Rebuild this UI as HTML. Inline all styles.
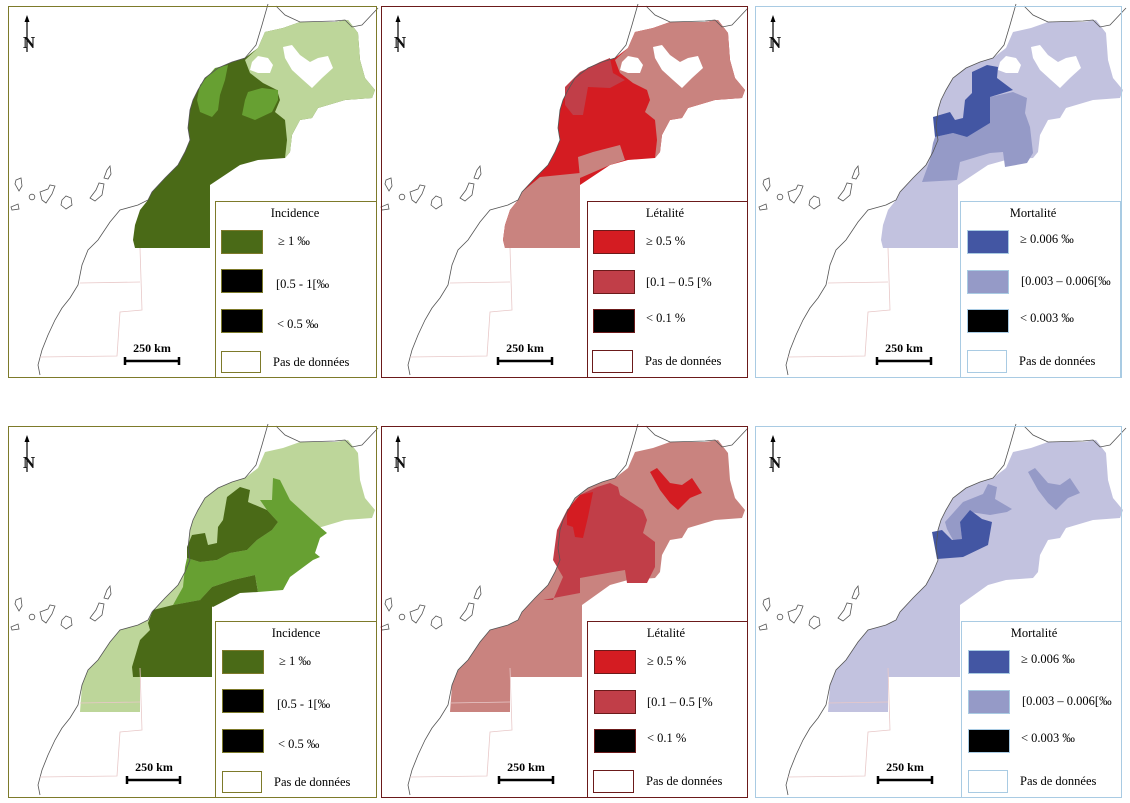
<!DOCTYPE html>
<html><head><meta charset="utf-8"><style>
html,body{margin:0;padding:0;background:#fff;}
svg{display:block;}
text{font-family:"Liberation Serif",serif;}
</style></head><body>
<svg width="1130" height="803" viewBox="0 0 1130 803" xmlns="http://www.w3.org/2000/svg">
<defs>
<path id="cTop" d="M245,58 L258,48 265,32 283,28 300,22 335,22 348,20 358,33 360,60 365,78 375,90 372,98 345,100 318,108 312,118 300,120 292,135 290,152 285,158 258,160 240,165 210,185 210,248 135,248 133,240 135,225 140,210 148,200 152,192 165,178 178,165 185,152 190,140 188,128 190,110 193,100 198,90 205,78 218,68 232,62 Z"/>
<path id="cBot" d="M245,58 L258,48 265,32 283,28 300,22 335,22 348,20 358,33 360,60 365,78 375,90 372,98 345,100 318,108 312,118 300,120 292,135 290,152 285,158 258,160 240,165 212,185 212,257 140,257 140,292 80,292 82,265 88,250 98,240 110,222 120,210 138,205 148,200 152,192 165,178 178,165 185,152 190,140 188,128 190,110 193,100 198,90 205,78 218,68 232,62 Z"/>
<path id="ne" d="M245,60 L258,48 265,32 283,28 300,22 335,22 348,20 358,33 360,60 365,78 375,90 372,98 345,100 318,108 312,118 300,120 292,135 290,152 285,158 287,140 285,120 275,112 280,100 277,90 263,83 250,73 Z"/>
<path id="h1" d="M252,62 L258,56 268,58 273,65 270,73 258,73 250,70 Z"/>
<path id="h2" d="M283,47 L292,45 300,55 310,62 318,58 328,56 333,68 322,78 312,88 303,80 292,70 285,58 Z"/>
<path id="blob" d="M280,52 L287,48 300,63 312,65 322,58 332,73 320,78 308,90 300,83 290,70 Z"/>
<g id="lines" fill="none">
<path d="M268,4 L262,25 256,45 245,58 232,62 218,68 205,78 198,90 193,100 190,110 188,128 190,140 185,152 178,165 165,178 152,192 148,200 138,205 120,210 110,222 98,240 88,250 82,265 78,285 70,298 62,308 55,320 48,335 42,350 38,365 40,375" stroke="#555" stroke-width="0.8"/>
<path d="M276,6 L285,15 300,22 335,21 345,20 352,27 362,25 378,8" stroke="#555" stroke-width="0.8"/>
<path d="M140,248 L142,310 120,312 117,356 40,357 M80,283 L140,282" stroke="#e8c8c8" stroke-width="0.8"/>
<g stroke="#555" stroke-width="0.8">
<path d="M16,180 L21,178 22,186 19,191 15,184 Z"/>
<circle cx="32" cy="197" r="2.8"/>
<path d="M40,192 L48,189 50,185 55,186 52,194 46,203 42,200 Z"/>
<path d="M62,200 L66,196 71,198 72,205 66,209 61,205 Z"/>
<path d="M90,198 L96,190 99,183 104,184 102,195 95,201 Z"/>
<path d="M104,178 L107,170 110,166 111,174 108,179 Z"/>
<path d="M11,207 L18,204 19,209 12,210 Z"/>
</g>
</g>
</defs>

<g>
<g transform="translate(0,0)">
<use href="#cTop" fill="#4a6a17"/>
<use href="#ne" fill="#bdd69a"/>
<use href="#h1" fill="#fff"/><use href="#h2" fill="#fff"/>
<path d="M200,85 L215,68 228,65 225,80 220,95 218,110 212,117 200,112 197,100 Z" fill="#67a032"/>
<path d="M248,92 L262,88 278,90 278,100 272,112 255,120 242,115 245,100 Z" fill="#67a032"/>
<use href="#lines"/>
</g>
<rect x="8.5" y="6.5" width="368" height="371" fill="none" stroke="#7d7a2a" stroke-width="1"/>
</g>

<g>
<g transform="translate(370,0)">
<use href="#cTop" fill="#d41c22"/>
<use href="#ne" fill="#c9837f"/>
<use href="#h1" fill="#fff"/><use href="#h2" fill="#fff"/>
<path d="M195,87 L210,72 230,62 240,58 243,73 255,80 240,88 218,87 213,115 203,115 195,105 Z" fill="#c13e48"/>
<path d="M152,192 L170,177 210,173 210,248 135,248 133,240 135,225 140,210 148,200 Z" fill="#c9837f"/>
<path d="M208,157 L223,152 250,145 255,160 240,165 210,178 Z" fill="#c9837f"/>
<use href="#lines"/>
</g>
<rect x="381.5" y="6.5" width="366" height="371" fill="none" stroke="#6b1a1a" stroke-width="1"/>
</g>

<g>
<g transform="translate(748,0)">
<use href="#cTop" fill="#c2c2df"/>
<use href="#h1" fill="#fff"/><use href="#h2" fill="#fff"/>
<path d="M242,97 L265,92 279,98 277,113 282,127 285,153 279,163 257,167 255,152 242,153 212,162 209,180 174,182 182,160 185,143 187,137 205,133 219,137 242,123 Z" fill="#959ac7"/>
<path d="M224,72 L239,65 250,67 249,78 265,90 242,97 242,123 219,137 205,133 187,137 185,117 202,112 207,120 215,118 217,100 224,93 Z" fill="#4356a3"/>
<use href="#lines"/>
</g>
<rect x="755.5" y="6.5" width="366" height="371" fill="none" stroke="#a9cbe3" stroke-width="1"/>
</g>

<g>
<g transform="translate(0,420)">
<use href="#cBot" fill="#bdd69a"/>
<path d="M273,58 L280,60 290,80 312,100 327,113 320,118 315,133 320,137 313,140 290,157 283,170 258,172 255,155 233,160 212,167 200,180 173,185 183,167 185,147 187,138 200,142 217,140 230,133 247,130 257,120 272,110 278,102 267,90 260,80 272,80 Z" fill="#67a032"/>
<path d="M240,67 L250,70 248,82 267,90 278,102 272,110 257,120 247,130 230,133 217,140 200,142 187,138 187,127 192,115 205,113 208,125 217,123 218,107 223,100 227,77 Z" fill="#4a6a17"/>
<path d="M212,167 L233,160 255,155 258,172 240,173 213,187 200,180 Z" fill="#4a6a17"/>
<path d="M148,203 L153,190 173,185 200,180 212,182 212,257 133,257 132,247 140,220 150,210 Z" fill="#4a6a17"/>
<use href="#lines"/>
</g>
<rect x="8.5" y="426.5" width="368" height="371" fill="none" stroke="#7d7a2a" stroke-width="1"/>
</g>

<g>
<g transform="translate(370,420)">
<use href="#cBot" fill="#c9837f"/>
<path d="M183,180 L193,157 183,140 187,110 197,90 210,75 227,67 240,63 248,67 250,75 273,90 277,100 273,113 285,122 285,147 277,163 257,163 255,150 243,152 210,158 210,173 173,180 Z" fill="#c13e48"/>
<path d="M197,90 L210,75 223,72 218,97 213,118 205,117 203,107 197,105 Z" fill="#d41c22"/>
<use href="#blob" fill="#d41c22"/>
<use href="#lines"/>
</g>
<rect x="381.5" y="426.5" width="366" height="371" fill="none" stroke="#6b1a1a" stroke-width="1"/>
</g>

<g>
<g transform="translate(748,420)">
<use href="#cBot" fill="#c2c2df"/>
<path d="M197,102 L215,82 235,74 240,64 249,67 247,79 264,89 259,92 242,95 222,92 212,102 214,119 205,120 199,109 Z" fill="#959ac7"/>
<path d="M222,90 L234,99 244,102 240,125 215,137 189,139 184,112 194,110 204,120 214,119 212,102 Z" fill="#4356a3"/>
<use href="#blob" fill="#959ac7"/>
<use href="#lines"/>
</g>
<rect x="755.5" y="426.5" width="366" height="371" fill="none" stroke="#a9cbe3" stroke-width="1"/>
</g>

<g id="deco">
<g stroke="#000" stroke-width="1.2">
<line x1="27" y1="20" x2="27" y2="52"/><line x1="398" y1="20" x2="398" y2="52"/><line x1="773" y1="20" x2="773" y2="52"/>
<line x1="27" y1="440" x2="27" y2="472"/><line x1="398" y1="440" x2="398" y2="472"/><line x1="773" y1="440" x2="773" y2="472"/>
</g>
<g fill="#000">
<path d="M27,15 L24.5,22 29.5,22 Z"/><path d="M398,15 L395.5,22 400.5,22 Z"/><path d="M773,15 L770.5,22 775.5,22 Z"/>
<path d="M27,435 L24.5,442 29.5,442 Z"/><path d="M398,435 L395.5,442 400.5,442 Z"/><path d="M773,435 L770.5,442 775.5,442 Z"/>
</g>
<g font-size="17" font-weight="bold" text-anchor="middle" fill="#111">
<text x="29" y="48">N</text><text x="400" y="48">N</text><text x="775" y="48">N</text>
<text x="29" y="468">N</text><text x="400" y="468">N</text><text x="775" y="468">N</text>
</g>
<g stroke="#000">
<path d="M125,361 H179 M125,357 V365 M179,357 V365" stroke-width="2.5"/>
<path d="M498,361 H552 M498,357 V365 M552,357 V365" stroke-width="2.5"/>
<path d="M877,361 H931 M877,357 V365 M931,357 V365" stroke-width="2.5"/>
<path d="M127,780 H180 M127,776 V784 M180,776 V784" stroke-width="2.5"/>
<path d="M499,780 H553 M499,776 V784 M553,776 V784" stroke-width="2.5"/>
<path d="M878,780 H932 M878,776 V784 M932,776 V784" stroke-width="2.5"/>
</g>
<g font-size="12" font-weight="bold" text-anchor="middle" fill="#000">
<text x="152" y="352">250 km</text><text x="525" y="352">250 km</text><text x="904" y="352">250 km</text>
<text x="154" y="771">250 km</text><text x="526" y="771">250 km</text><text x="905" y="771">250 km</text>
</g>
</g>

<g font-size="12.5" fill="#000">
<rect x="215.5" y="201.5" width="161" height="176" fill="#fff" stroke="#7d7a2a"/>
<text x="295" y="217" text-anchor="middle">Incidence</text>
<rect x="221.5" y="230.5" width="41" height="23" fill="#4a6a17" stroke="#7d7a2a"/>
<rect x="221.5" y="269.5" width="41" height="23" fill="#000" stroke="#7d7a2a"/>
<rect x="221.5" y="309.5" width="41" height="23" fill="#000" stroke="#7d7a2a"/>
<rect x="221.5" y="351.5" width="39" height="21" fill="#fff" stroke="#7d7a2a"/>
<text x="278" y="245">≥ 1 ‰</text><text x="276" y="288">[0.5 - 1[‰</text><text x="277" y="328">&lt; 0.5 ‰</text><text x="273" y="366">Pas de données</text>
<rect x="215.5" y="621.5" width="161" height="176" fill="#fff" stroke="#7d7a2a"/>
<text x="296" y="637" text-anchor="middle">Incidence</text>
<rect x="222.5" y="650.5" width="41" height="23" fill="#4a6a17" stroke="#7d7a2a"/>
<rect x="222.5" y="689.5" width="41" height="23" fill="#000" stroke="#7d7a2a"/>
<rect x="222.5" y="729.5" width="41" height="23" fill="#000" stroke="#7d7a2a"/>
<rect x="222.5" y="771.5" width="39" height="21" fill="#fff" stroke="#7d7a2a"/>
<text x="279" y="665">≥ 1 ‰</text><text x="277" y="708">[0.5 - 1[‰</text><text x="278" y="748">&lt; 0.5 ‰</text><text x="274" y="786">Pas de données</text>
<rect x="587.5" y="201.5" width="160" height="176" fill="#fff" stroke="#6b1a1a"/>
<text x="665" y="217" text-anchor="middle">Létalité</text>
<rect x="593.5" y="230.5" width="41" height="23" fill="#d41c22" stroke="#6b1a1a"/>
<rect x="593.5" y="270.5" width="41" height="23" fill="#c13e48" stroke="#6b1a1a"/>
<rect x="593.5" y="309.5" width="41" height="23" fill="#000" stroke="#6b1a1a"/>
<rect x="592.5" y="350.5" width="40" height="22" fill="#fff" stroke="#6b1a1a"/>
<text x="646" y="245">≥ 0.5 %</text><text x="646" y="286">[0.1 – 0.5 [%</text><text x="646" y="322">&lt; 0.1 %</text><text x="645" y="365">Pas de données</text>
<rect x="587.5" y="621.5" width="160" height="176" fill="#fff" stroke="#6b1a1a"/>
<text x="666" y="637" text-anchor="middle">Létalité</text>
<rect x="594.5" y="650.5" width="41" height="23" fill="#d41c22" stroke="#6b1a1a"/>
<rect x="594.5" y="690.5" width="41" height="23" fill="#c13e48" stroke="#6b1a1a"/>
<rect x="594.5" y="729.5" width="41" height="23" fill="#000" stroke="#6b1a1a"/>
<rect x="593.5" y="770.5" width="40" height="22" fill="#fff" stroke="#6b1a1a"/>
<text x="647" y="665">≥ 0.5 %</text><text x="647" y="706">[0.1 – 0.5 [%</text><text x="647" y="742">&lt; 0.1 %</text><text x="646" y="785">Pas de données</text>
<rect x="960.5" y="201.5" width="160" height="176" fill="#fff" stroke="#a9cbe3"/>
<text x="1033" y="217" text-anchor="middle">Mortalité</text>
<rect x="967.5" y="230.5" width="41" height="23" fill="#4356a3" stroke="#a9cbe3"/>
<rect x="967.5" y="270.5" width="41" height="23" fill="#959ac7" stroke="#a9cbe3"/>
<rect x="967.5" y="309.5" width="41" height="23" fill="#000" stroke="#a9cbe3"/>
<rect x="967.5" y="350.5" width="39" height="22" fill="#fff" stroke="#a9cbe3"/>
<text x="1020" y="243">≥ 0.006 ‰</text><text x="1021" y="285">[0.003 – 0.006[‰</text><text x="1020" y="322">&lt; 0.003 ‰</text><text x="1019" y="365">Pas de données</text>
<rect x="961.5" y="621.5" width="160" height="176" fill="#fff" stroke="#a9cbe3"/>
<text x="1034" y="637" text-anchor="middle">Mortalité</text>
<rect x="968.5" y="650.5" width="41" height="23" fill="#4356a3" stroke="#a9cbe3"/>
<rect x="968.5" y="690.5" width="41" height="23" fill="#959ac7" stroke="#a9cbe3"/>
<rect x="968.5" y="729.5" width="41" height="23" fill="#000" stroke="#a9cbe3"/>
<rect x="968.5" y="770.5" width="39" height="22" fill="#fff" stroke="#a9cbe3"/>
<text x="1021" y="663">≥ 0.006 ‰</text><text x="1022" y="705">[0.003 – 0.006[‰</text><text x="1021" y="742">&lt; 0.003 ‰</text><text x="1020" y="785">Pas de données</text>
</g>
</svg>
</body></html>
